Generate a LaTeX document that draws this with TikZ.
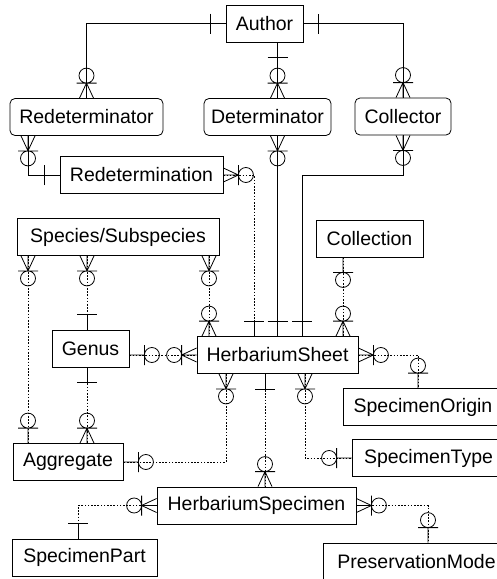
\documentclass[tikz,border=0pt]{standalone}
\usepackage{fontspec}
\setmainfont{Liberation Sans}
\usetikzlibrary{decorations.markings}

\newcommand\mkone{\draw[solid] (-15pt,0) -- (0,0) (0,-10pt) -- (0,10pt);}
\newcommand\mkzo{\draw[solid] (-15pt,0) -- (0,0) (0,-10pt) -- (0,10pt) (7.5pt,0) circle (7.5pt);}
\newcommand\mkzm{\draw[solid] (-15pt,-7pt) -- (0,0) -- (-15pt,7pt) (-15pt,0) -- (0,0) (0,-10pt) -- (0,10pt) (7.5pt,0) circle (7.5pt);}

\tikzset{
  one start/.style={postaction={decorate,decoration={markings,mark=at position 15pt with {\mkone}}}},
  one end/.style={postaction={decorate,decoration={markings,mark=at position -15pt with {\begin{scope}[xscale=-1]\mkone\end{scope}}}}},
  zo start/.style={postaction={decorate,decoration={markings,mark=at position 15pt with {\mkzo}}}},
  zo end/.style={postaction={decorate,decoration={markings,mark=at position -15pt with {\begin{scope}[xscale=-1]\mkzo\end{scope}}}}},
  zm start/.style={postaction={decorate,decoration={markings,mark=at position 15pt with {\mkzm}}}},
  zm end/.style={postaction={decorate,decoration={markings,mark=at position -15pt with {\begin{scope}[xscale=-1]\mkzm\end{scope}}}}}
}

\begin{document}
\begin{tikzpicture}[
  x=1pt, y=-1pt,
  font=\fontsize{19.5}{22}\selectfont,
  box/.style={draw, fill=white, line width=0.8pt, inner sep=0pt, minimum height=37pt},
  role/.style={box, rounded corners=5pt},
  rel/.style={line width=0.8pt},
  opt/.style={rel, dash pattern=on 1.6pt off 1.6pt}
]
\path[use as bounding box, fill=white] (0,0) rectangle (497,579);

\node[box, minimum width=77pt] (author) at (264.5,23.5) {Author};
\node[role, minimum width=153pt] (redeterminator) at (86.5,117) {Redeterminator};
\node[role, minimum width=127pt] (determinator) at (267.5,117) {Determinator};
\node[role, minimum width=96pt] (collector) at (403,116.5) {Collector};
\node[box, minimum width=163pt] (redetermination) at (141.5,175) {Redetermination};
\node[box, minimum width=202pt] (species) at (118,237) {Species/Subspecies};
\node[box, minimum width=107pt] (collection) at (369.5,238.5) {Collection};
\node[box, minimum width=77pt] (genus) at (90.5,348.5) {Genus};
\node[box, minimum width=161pt] (sheet) at (277.5,355) {HerbariumSheet};
\node[box, minimum width=160pt] (origin) at (423,407) {SpecimenOrigin};
\node[box, minimum width=110pt] (aggregate) at (68,462) {Aggregate};
\node[box, minimum width=153pt] (spectype) at (428.5,458) {SpecimenType};
\node[box, minimum width=199pt] (specimen) at (256.5,505.5) {HerbariumSpecimen};
\node[box, minimum width=145pt] (part) at (84.5,557.5) {SpecimenPart};
\node[box, minimum width=187pt] (preservation) at (416.5,561.5) {PreservationMode};

\draw[rel, one start, zm end] (author.west) -| (redeterminator.north);
\draw[rel, one start, zm end] (author.south -| sheet.north) -- (determinator.north -| sheet.north);
\draw[rel, one start, zm end] (author.east) -| (collector.north);
\draw[rel, zm start, one end] ([xshift=-58.5pt]redeterminator.south) |- (redetermination.west);
\draw[opt, zm start, one end] (redetermination.east) -| ([xshift=-23.5pt]sheet.north);
\draw[rel, zm start, one end] (determinator.south -| sheet.north) -- (sheet.north);
\draw[rel, zm start, one end] (collector.south) -- (collector.south |- redetermination.east) -| ([xshift=24.5pt]sheet.north);
\draw[opt, zm start, zo end] ([xshift=-90pt]species.south) -- ([xshift=-90pt]species.south |- aggregate.north);
\draw[opt, zm start, one end] ([xshift=-3.5pt]genus.north |- species.south) -- ([xshift=-3.5pt]genus.north);
\draw[opt, zm start, zm end] ([xshift=91pt]species.south) -- ([xshift=91pt]species.south |- sheet.north);
\draw[opt, zo start, zm end] ([xshift=-26.5pt]collection.south) -- ([xshift=-26.5pt]collection.south |- sheet.north);
\draw[opt, zo start, zm end] (genus.east |- sheet.west) -- (sheet.west);
\draw[opt, one start, zm end] ([xshift=-3.5pt]genus.south) -- ([xshift=-3.5pt]genus.south |- aggregate.north);
\draw[opt, zm start, zo end] ([xshift=-51.5pt]sheet.south) |- (aggregate.east);
\draw[opt, one start, zm end] ([xshift=-12.5pt]sheet.south) -- ([xshift=-12.5pt]sheet.south |- specimen.north);
\draw[opt, zm start, zo end] ([xshift=27.5pt]sheet.south) |- (spectype.west);
\draw[opt, zm start, zo end] (sheet.east) -| ([xshift=-5pt]origin.north);
\draw[opt, zm start, one end] (specimen.west) -| ([xshift=-6.5pt]part.north);
\draw[opt, zm start, zo end] (specimen.east) -| ([xshift=11.5pt]preservation.north);
\end{tikzpicture}
\end{document}
